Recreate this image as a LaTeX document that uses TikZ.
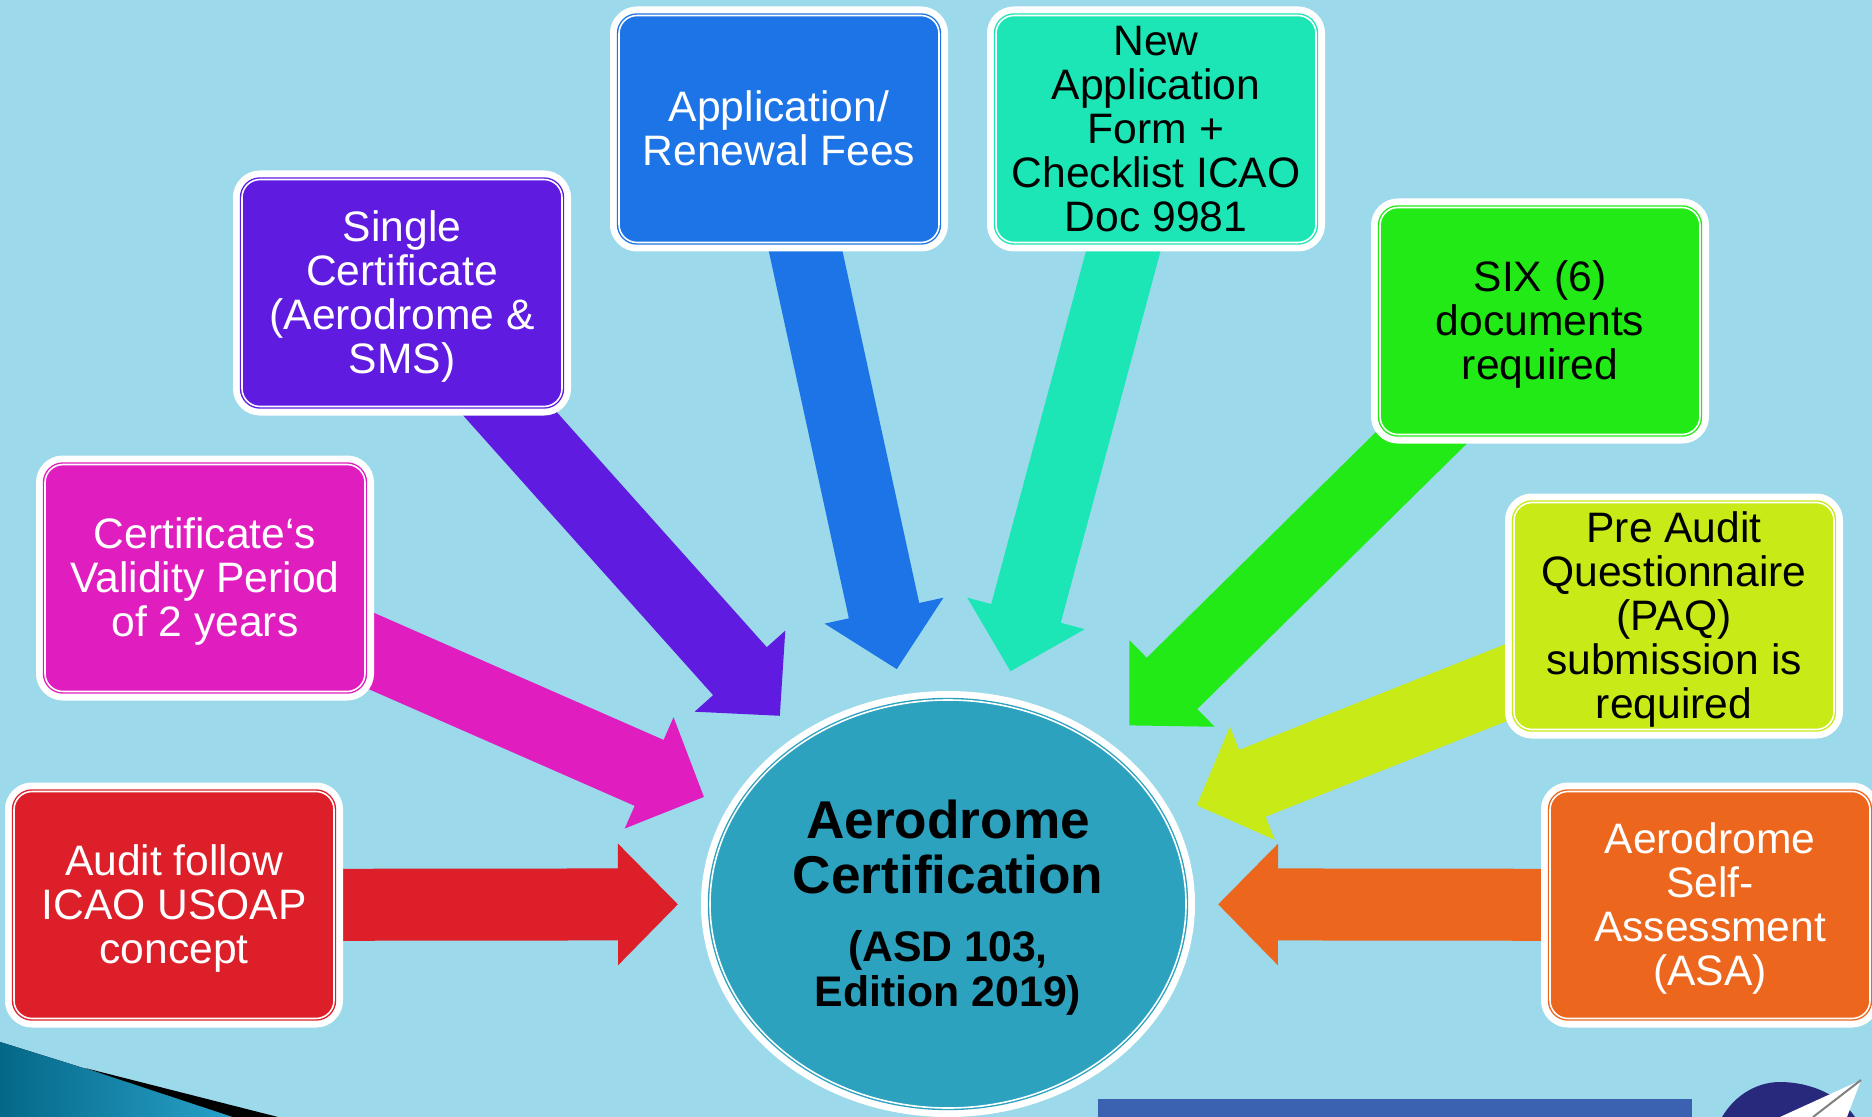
\documentclass[tikz,border=0pt]{standalone}
\usepackage{fontspec}
\setmainfont{Liberation Sans}
\usetikzlibrary{arrows.meta,shapes.geometric}
\pgfdeclarelayer{backdrop}
\pgfsetlayers{backdrop,main}
\definecolor{slidebg}{HTML}{9BD9EB}
\definecolor{hubcol}{HTML}{2CA2BF}
\definecolor{boxred}{HTML}{DC1F28}
\definecolor{boxpink}{HTML}{E01EC0}
\definecolor{boxviolet}{HTML}{5F1BE0}
\definecolor{boxblue}{HTML}{1C74E6}
\definecolor{boxteal}{HTML}{1CE6B5}
\definecolor{boxgreen}{HTML}{22EA16}
\definecolor{boxlime}{HTML}{C8EA16}
\definecolor{boxorange}{HTML}{EC661E}
\definecolor{barblue}{HTML}{3A62B0}
\definecolor{logonavy}{HTML}{28287D}
\newcommand{\firstline}{\rule{0pt}{19.1pt}}
\tikzset{
	ringed/.style={fill=#1,draw=#1,double=white,double distance=.8pt,line width=.7pt,
		outer sep=4.5pt,inner sep=0pt,align=center,
		preaction={draw=white,line width=9pt}},
	box/.style={ringed=#1,rectangle,rounded corners=9pt,minimum width=160pt,minimum height=113.5pt,
		font=\fontsize{21.3}{22}\selectfont,
		execute at end node=\rule[-5pt]{0pt}{0pt}},
	blockarrow/.style={color=#1,line width=36pt,shorten >=13pt,
		-{Triangle[length=30pt,width=59pt]}},
}
\begin{document}
\begin{tikzpicture}[x=0.5pt,y=-0.5pt]
		\useasboundingbox (0,0) rectangle (1872,1117);
		% hub
		\node[ringed=hubcol,ellipse,minimum width=238pt,minimum height=204pt] (hub) at (948,904) {%
			\fontsize{26.6}{27}\selectfont\bfseries\rule{0pt}{23pt}Aerodrome\\[7pt]
			\fontsize{26.6}{27}\selectfont\bfseries Certification\\[17pt]
			\fontsize{21.4}{21.5}\selectfont\bfseries (ASD 103,\\[1.5pt]
			\fontsize{21.4}{21.5}\selectfont\bfseries Edition 2019)};
		% boxes
		\node[box=boxred,text=white] (audit) at (174,905) {\firstline Audit follow\\ICAO USOAP\\concept};
		\node[box=boxpink,text=white] (validity) at (205,578) {\firstline Certificate‘s\\Validity Period\\of 2 years};
		\node[box=boxviolet,text=white] (single) at (402,293) {\firstline Single\\Certificate\\(Aerodrome \&\\SMS)};
		\node[box=boxblue,text=white] (fees) at (779,129) {\firstline Application/\\Renewal Fees};
		\node[box=boxteal] (form) at (1156,129) {\firstline New\\Application\\Form +\\Checklist ICAO\\Doc 9981};
		\node[box=boxgreen] (docs) at (1540,321) {\firstline SIX (6)\\documents\\required};
		\node[box=boxlime] (paq) at (1674,616) {\firstline Pre Audit\\Questionnaire\\(PAQ)\\submission is\\required};
		\node[box=boxorange,text=white] (asa) at (1710,905) {\firstline Aerodrome\\Self-\\Assessment\\(ASA)};
		\begin{pgfonlayer}{backdrop}
			\fill[slidebg] (0,0) rectangle (1872,1117);
			% corner decoration and logo
			\fill[left color={rgb,255:red,4;green,104;blue,136},right color={rgb,255:red,42;green,163;blue,203}] (0,1042) -- (240,1117) -- (0,1117) -- cycle;
			\fill[black] (85,1068) -- (278,1117) -- (233,1117) -- cycle;
			\fill[barblue] (1098,1099) rectangle (1692,1117);
			\fill[logonavy] (1722,1117) .. controls (1735,1095) and (1757,1082) .. (1780,1082) .. controls (1810,1082) and (1840,1095) .. (1855,1117) -- cycle;
			\fill[white] (1861,1080) -- (1780,1117) -- (1847,1117) -- cycle;
			\draw[gray,line width=1pt] (1861,1080) -- (1813,1117);
			% arrows
			\draw[blockarrow=boxred,shorten >=11.5pt] (audit.center) -- (hub);
			\draw[blockarrow=boxpink] (validity.center) -- (hub);
			\draw[blockarrow=boxviolet] (single.center) -- (hub);
			\draw[blockarrow=boxblue] (fees.center) -- (hub);
			\draw[blockarrow=boxteal] (form.center) -- (hub);
			\draw[blockarrow=boxgreen] (docs.center) -- (hub);
			\draw[blockarrow=boxlime] (paq.center) -- (hub);
			\draw[blockarrow=boxorange,shorten >=11.5pt] (asa.center) -- (hub);
		\end{pgfonlayer}
\end{tikzpicture}
\end{document}
